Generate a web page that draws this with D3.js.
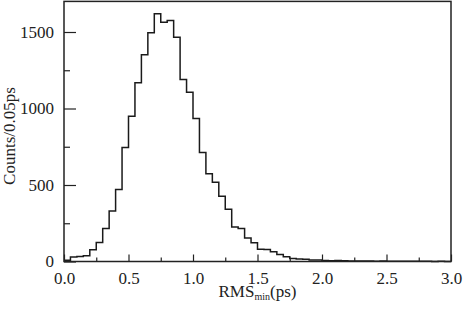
<!DOCTYPE html>
<html>
<head>
<meta charset="utf-8">
<script src="https://cdn.jsdelivr.net/npm/d3@7"></script>
<style>
  body { margin: 0; background: #fff; }
  text { font-family: "Liberation Serif", "DejaVu Serif", serif; fill: #222; }
</style>
</head>
<body>
<div id="chart"></div>
<script>
// histogram of RMS_min, 0.05 ps bins from 0 to 3.0 ps
var binWidth = 0.05;
var counts = [
  8, 30, 33, 38, 76, 125, 215, 330, 470, 745,
  950, 1168, 1352, 1495, 1620, 1563, 1575, 1465, 1190, 1106,
  934, 712, 574, 518, 426, 341, 226, 216, 153, 122,
  80, 78, 63, 46, 31, 19, 17, 15, 10, 9,
  7, 5, 6, 5, 4, 4, 3, 3, 2, 3,
  2, 1, 2, 1, 1, 1, 1, 0, 1, 0
];
var xTicks = [0, 0.5, 1.0, 1.5, 2.0, 2.5, 3.0];
var xMinor = [0.25, 0.75, 1.25, 1.75, 2.25, 2.75];
var yTicks = [0, 500, 1000, 1500];
var yMinor = [250, 750, 1250];

var W = 463, H = 312;
var margin = { top: 1.4, right: 12, bottom: 50.5, left: 64 };
var width = W - margin.left - margin.right;
var height = H - margin.top - margin.bottom;

var svg = d3.select("#chart").append("svg")
  .attr("width", W)
  .attr("height", H)
  .append("g")
  .attr("transform", "translate(" + margin.left + "," + margin.top + ")");

var x = d3.scaleLinear().domain([0, 3.0]).range([0, width]);
var y = d3.scaleLinear().domain([0, 1700]).range([height, 0]);

// step outline
var pts = counts.map(function (c, i) { return [i * binWidth, c]; });
pts.push([counts.length * binWidth, counts[counts.length - 1]]);

var line = d3.line()
  .x(function (d) { return x(d[0]); })
  .y(function (d) { return y(d[1]); })
  .curve(d3.curveStepAfter);

svg.append("path")
  .datum(pts)
  .attr("d", line)
  .style("fill", "none")
  .style("stroke", "#1a1a1a")
  .style("stroke-width", 1.5);

// axes, ticks pointing inward
function styleAxis(g) {
  g.select(".domain").remove();
  g.selectAll(".tick line").style("stroke", "#222").style("stroke-width", 1.2);
  g.selectAll(".tick text").style("font-size", "17px").style("fill", "#222");
}

svg.append("g")
  .attr("transform", "translate(0," + height + ")")
  .call(d3.axisBottom(x).tickValues(xTicks).tickFormat(d3.format(".1f")).tickSize(-7).tickPadding(10))
  .call(styleAxis);

svg.append("g")
  .attr("transform", "translate(0," + height + ")")
  .call(d3.axisBottom(x).tickValues(xMinor).tickFormat("").tickSize(-4))
  .call(styleAxis);

svg.append("g")
  .call(d3.axisLeft(y).tickValues(yTicks).tickFormat(d3.format("d")).tickSize(-12).tickPadding(10))
  .call(styleAxis);

svg.append("g")
  .call(d3.axisLeft(y).tickValues(yMinor).tickFormat("").tickSize(-6))
  .call(styleAxis);

// frame
svg.append("rect")
  .attr("x", 0)
  .attr("y", 0)
  .attr("width", width)
  .attr("height", height)
  .style("fill", "none")
  .style("stroke", "#222")
  .style("stroke-width", 1.5);

// axis titles
var xt = svg.append("text")
  .attr("x", width / 2)
  .attr("y", 297 - margin.top)
  .attr("text-anchor", "middle")
  .style("font-size", "17px");
xt.append("tspan").text("RMS");
xt.append("tspan").attr("dy", 3).style("font-size", "10px").text("min");
xt.append("tspan").attr("dy", -3).text("(ps)");

svg.append("text")
  .attr("transform", "translate(" + (15 - margin.left) + "," + (136 - margin.top) + ") rotate(-90)")
  .attr("text-anchor", "middle")
  .style("font-size", "17px")
  .text("Counts/0.05ps");
</script>
</body>
</html>
